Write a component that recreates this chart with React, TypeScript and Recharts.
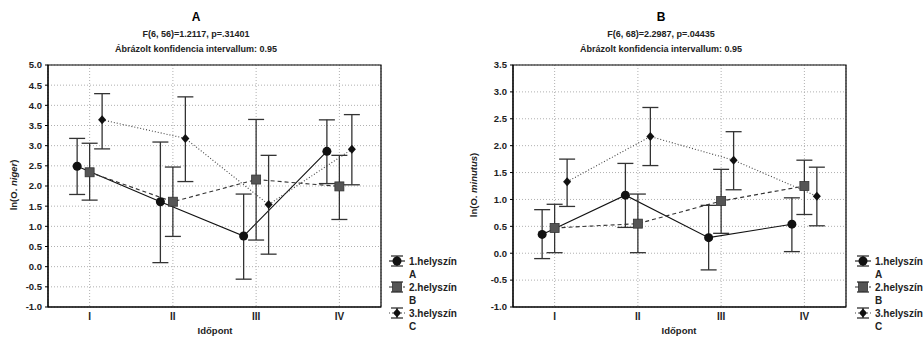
import React from 'react';
import { ComposedChart, Line, XAxis, YAxis, CartesianGrid, ErrorBar, ReferenceArea } from 'recharts';

const CATEGORIES = ['I', 'II', 'III', 'IV'];
const SERIES_NAMES = ['1.helyszín', '2.helyszín', '3.helyszín'];
const SERIES_LETTERS = ['A', 'B', 'C'];

// panel A: ln(O. niger)
const A_MEAN_1 = [2.49, 1.61, 0.76, 2.86];
const A_LOW_1 = [1.79, 0.1, -0.31, 2.06];
const A_HIGH_1 = [3.18, 3.09, 1.8, 3.64];
const A_MEAN_2 = [2.34, 1.61, 2.16, 1.99];
const A_LOW_2 = [1.65, 0.75, 0.66, 1.17];
const A_HIGH_2 = [3.06, 2.47, 3.65, 2.76];
const A_MEAN_3 = [3.64, 3.18, 1.54, 2.91];
const A_LOW_3 = [2.92, 2.11, 0.31, 2.03];
const A_HIGH_3 = [4.29, 4.21, 2.76, 3.77];
const A_TICKS = [-1, -0.5, 0, 0.5, 1, 1.5, 2, 2.5, 3, 3.5, 4, 4.5, 5];

// panel B: ln(O. minutus)
const B_MEAN_1 = [0.35, 1.08, 0.29, 0.54];
const B_LOW_1 = [-0.1, 0.48, -0.31, 0.03];
const B_HIGH_1 = [0.81, 1.67, 0.89, 1.03];
const B_MEAN_2 = [0.47, 0.55, 0.97, 1.25];
const B_LOW_2 = [0.01, 0.01, 0.37, 0.72];
const B_HIGH_2 = [0.91, 1.1, 1.56, 1.73];
const B_MEAN_3 = [1.33, 2.17, 1.73, 1.06];
const B_LOW_3 = [0.87, 1.63, 1.18, 0.51];
const B_HIGH_3 = [1.75, 2.71, 2.26, 1.6];
const B_TICKS = [-1, -0.5, 0, 0.5, 1, 1.5, 2, 2.5, 3, 3.5];

// small horizontal shift so the three sites don't overlap at a time point
const OFFSETS = [-0.15, 0, 0.15];
const FONT = '"Liberation Sans", Arial, sans-serif';

function rows(mean: number[], low: number[], high: number[], offset: number) {
  return mean.map((m, i) => ({
    x: i + 1 + offset,
    y: m,
    err: [m - low[i], high[i] - m],
  }));
}

const CircleDot = (p: any) =>
  p.cx == null ? null : <circle key={`c${p.index}`} cx={p.cx} cy={p.cy} r={4.5} fill="#111" />;
const SquareDot = (p: any) =>
  p.cx == null ? null : (
    <rect key={`s${p.index}`} x={p.cx - 4.5} y={p.cy - 4.5} width={9} height={9} fill="#555" stroke="#333" strokeWidth={0.8} />
  );
const DiamondDot = (p: any) =>
  p.cx == null ? null : (
    <path
      key={`d${p.index}`}
      d={`M${p.cx},${p.cy - 4.5} L${p.cx + 4},${p.cy} L${p.cx},${p.cy + 4.5} L${p.cx - 4},${p.cy} Z`}
      fill="#111"
    />
  );

const STYLES = [
  { stroke: '#111', dash: undefined, dot: CircleDot },
  { stroke: '#333', dash: '4 3', dot: SquareDot },
  { stroke: '#444', dash: '1 2', dot: DiamondDot },
];

type PanelProps = {
  width: number;
  yAxisWidth: number;
  marginRight: number;
  domain: [number, number];
  ticks: number[];
  data: ReturnType<typeof rows>[];
};

function Panel({ width, yAxisWidth, marginRight, domain, ticks, data }: PanelProps) {
  const tickStyle = { fontSize: 9.5, fontWeight: 'bold', fill: '#222', fontFamily: FONT };
  return (
    <ComposedChart width={width} height={343} margin={{ top: 65, right: marginRight, bottom: 0, left: 0 }}>
      <CartesianGrid stroke="#b0b0b0" strokeDasharray="1 2" />
      <XAxis
        type="number"
        dataKey="x"
        domain={[0.5, 4.5]}
        ticks={[1, 2, 3, 4]}
        tickFormatter={(v) => CATEGORIES[v - 1]}
        height={36}
        stroke="#000"
        tickLine={false}
        tickSize={4}
        tickMargin={2}
        tick={{ ...tickStyle, fontSize: 10 }}
      />
      <YAxis
        type="number"
        domain={domain}
        ticks={ticks}
        tickFormatter={(v) => v.toFixed(1)}
        width={yAxisWidth}
        stroke="#000"
        tickSize={3}
        tickMargin={3}
        tick={tickStyle}
        interval={0}
      />
      {/* plot frame */}
      <ReferenceArea x1={0.5} x2={4.5} y1={domain[0]} y2={domain[1]} fill="none" stroke="#000" strokeWidth={1.2} fillOpacity={0} />
      {data.map((d, i) => (
        <Line
          key={i}
          data={d}
          dataKey="y"
          type="linear"
          stroke={STYLES[i].stroke}
          strokeWidth={1.1}
          strokeDasharray={STYLES[i].dash}
          dot={STYLES[i].dot}
          activeDot={false}
          isAnimationActive={false}
        >
          <ErrorBar dataKey="err" direction="y" width={8} stroke="#333" strokeWidth={1.3} />
        </Line>
      ))}
    </ComposedChart>
  );
}

function LegendGlyph({ x, y, i }: { x: number; y: number; i: number }) {
  const s = STYLES[i];
  const cx = x + 7;
  return (
    <g>
      <line x1={x + 1} x2={x + 13} y1={y - 5} y2={y - 5} stroke="#222" strokeWidth={1.2} />
      <line x1={x + 1} x2={x + 13} y1={y + 5} y2={y + 5} stroke="#222" strokeWidth={1.2} />
      <line x1={cx} x2={cx} y1={y - 5} y2={y + 5} stroke="#222" strokeWidth={1.2} />
      <line x1={x - 1} x2={x + 15} y1={y} y2={y} stroke={s.stroke} strokeWidth={1.1} strokeDasharray={s.dash} />
      {s.dot({ cx, cy: y, index: 99 })}
    </g>
  );
}

function Decorations({ cx, plotCx, yLabelX, legendX, title, stat, species }: any) {
  const t = { fontFamily: FONT, fill: '#222', fontWeight: 'bold' as const };
  return (
    <g>
      <text x={cx} y={21} textAnchor="middle" fontSize={12} {...t} fill="#000">{title}</text>
      <text x={cx} y={37} textAnchor="middle" fontSize={9} {...t}>{stat}</text>
      <text x={cx} y={52} textAnchor="middle" fontSize={9} {...t}>Ábrázolt konfidencia intervallum: 0.95</text>
      <text x={plotCx} y={334} textAnchor="middle" fontSize={9.5} {...t}>Időpont</text>
      <text
        x={yLabelX}
        y={185}
        textAnchor="middle"
        fontSize={9.5}
        {...t}
        transform={`rotate(-90 ${yLabelX} 185)`}
      >
        ln(O. <tspan fontStyle="italic">{species}</tspan>)
      </text>
      {SERIES_NAMES.map((name, i) => (
        <g key={name}>
          <LegendGlyph x={legendX} y={261 + i * 26} i={i} />
          <text x={legendX + 19} y={264.5 + i * 26} fontSize={10} {...t}>{name}</text>
          <text x={legendX + 19} y={278 + i * 26} fontSize={10} {...t}>{SERIES_LETTERS[i]}</text>
        </g>
      ))}
    </g>
  );
}

export default function App() {
  const dataA = [
    rows(A_MEAN_1, A_LOW_1, A_HIGH_1, OFFSETS[0]),
    rows(A_MEAN_2, A_LOW_2, A_HIGH_2, OFFSETS[1]),
    rows(A_MEAN_3, A_LOW_3, A_HIGH_3, OFFSETS[2]),
  ];
  const dataB = [
    rows(B_MEAN_1, B_LOW_1, B_HIGH_1, OFFSETS[0]),
    rows(B_MEAN_2, B_LOW_2, B_HIGH_2, OFFSETS[1]),
    rows(B_MEAN_3, B_LOW_3, B_HIGH_3, OFFSETS[2]),
  ];

  return (
    <div style={{ position: 'absolute', left: 0, top: 0, width: 924, height: 343, background: '#fff' }}>
      <div style={{ position: 'absolute', left: 0, top: 0 }}>
        <Panel width={460} yAxisWidth={48} marginRight={79} domain={[-1, 5]} ticks={A_TICKS} data={dataA} />
      </div>
      <div style={{ position: 'absolute', left: 460, top: 0 }}>
        <Panel width={464} yAxisWidth={53} marginRight={78} domain={[-1, 3.5]} ticks={B_TICKS} data={dataB} />
      </div>
      <svg width={924} height={343} style={{ position: 'absolute', left: 0, top: 0, pointerEvents: 'none' }}>
        <Decorations cx={196} plotCx={215} yLabelX={17} legendX={390} title="A" stat="F(6, 56)=1.2117, p=.31401" species="niger" />
        <Decorations cx={661} plotCx={679} yLabelX={477} legendX={856} title="B" stat="F(6, 68)=2.2987, p=.04435" species="minutus" />
      </svg>
    </div>
  );
}
